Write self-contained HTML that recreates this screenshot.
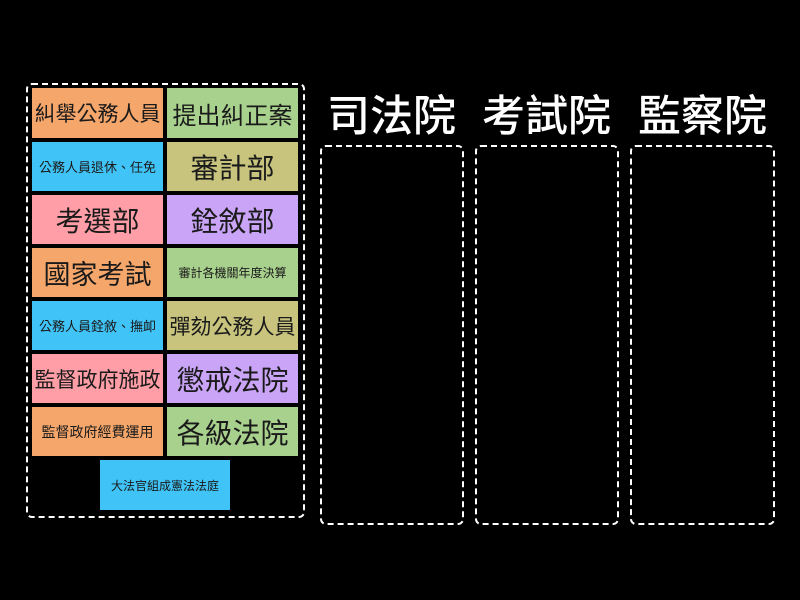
<!DOCTYPE html>
<html><head><meta charset="utf-8"><style>
body{margin:0;width:800px;height:600px;background:#000;position:relative;overflow:hidden;font-family:"Liberation Sans","Noto Sans CJK TC",sans-serif}
.c{position:absolute;border:2px dashed #fff;border-radius:6px;box-sizing:border-box}
.t{position:absolute;display:flex;align-items:center;justify-content:center;color:#1a1a1a;white-space:nowrap}
.h{position:absolute;color:#fff;font-size:43px;text-align:center;top:82px;width:155px;font-weight:500}
.o{background:#f5a66b}.g{background:#a9d18e}.b{background:#40c4f7}.k{background:#c8c47e}.p{background:#ff9ea6}.u{background:#c9a4f7}
</style></head><body>
<div class="c" style="left:26px;top:83px;width:279px;height:435px"></div>
<div class="t o" style="left:32px;top:88px;width:131px;height:50px;font-size:21px">糾舉公務人員</div>
<div class="t g" style="left:167px;top:88px;width:131px;height:50px;font-size:24px">提出糾正案</div>
<div class="t b" style="left:32px;top:142px;width:131px;height:49px;font-size:13px">公務人員退休、任免</div>
<div class="t k" style="left:167px;top:142px;width:131px;height:49px;font-size:28px">審計部</div>
<div class="t p" style="left:32px;top:195px;width:131px;height:49px;font-size:28px">考選部</div>
<div class="t u" style="left:167px;top:195px;width:131px;height:49px;font-size:28px">銓敘部</div>
<div class="t o" style="left:32px;top:248px;width:131px;height:49px;font-size:27px">國家考試</div>
<div class="t g" style="left:167px;top:248px;width:131px;height:49px;font-size:12px">審計各機關年度決算</div>
<div class="t b" style="left:32px;top:301px;width:131px;height:49px;font-size:13px">公務人員銓敘、撫卹</div>
<div class="t k" style="left:167px;top:301px;width:131px;height:49px;font-size:21px">彈劾公務人員</div>
<div class="t p" style="left:32px;top:354px;width:131px;height:49px;font-size:21px">監督政府施政</div>
<div class="t u" style="left:167px;top:354px;width:131px;height:49px;font-size:28px">懲戒法院</div>
<div class="t o" style="left:32px;top:407px;width:131px;height:49px;font-size:14px">監督政府經費運用</div>
<div class="t g" style="left:167px;top:407px;width:131px;height:49px;font-size:28px">各級法院</div>
<div class="t b" style="left:100px;top:460px;width:130px;height:50px;font-size:12px">大法官組成憲法法庭</div>
<div class="h" style="left:314px">司法院</div>
<div class="h" style="left:469px">考試院</div>
<div class="h" style="left:625px">監察院</div>
<div class="c" style="left:320px;top:145px;width:144px;height:380px"></div>
<div class="c" style="left:475px;top:145px;width:144px;height:380px"></div>
<div class="c" style="left:630px;top:145px;width:145px;height:380px"></div>
</body></html>
